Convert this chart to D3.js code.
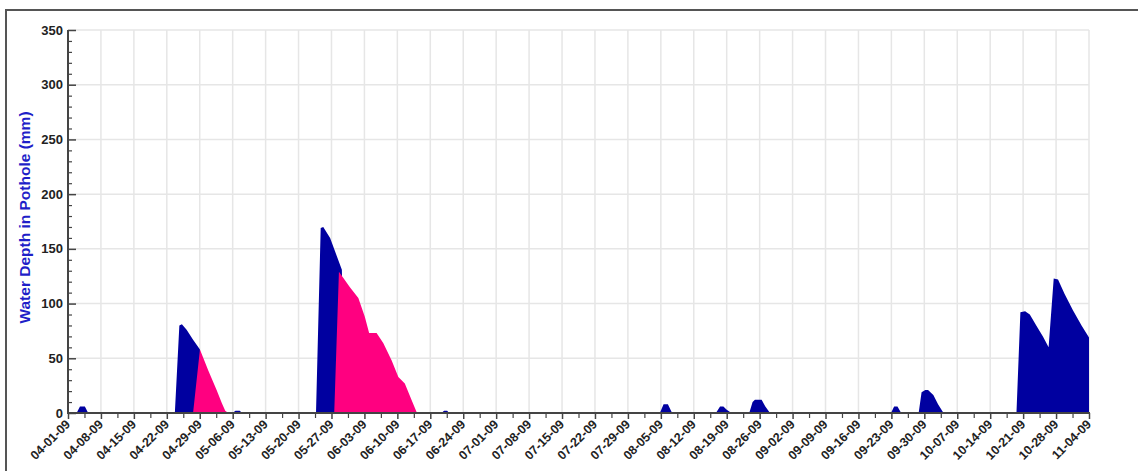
<!DOCTYPE html>
<html><head><meta charset="utf-8">
<script src="https://cdn.jsdelivr.net/npm/d3@7"></script>
<style>body{margin:0;background:#fff}svg{display:block}</style>
</head><body><svg id="c" width="1138" height="471"></svg>
<script>
// ---- data ----
const xTickLabels = ["04-01-09","04-08-09","04-15-09","04-22-09","04-29-09","05-06-09","05-13-09","05-20-09","05-27-09","06-03-09","06-10-09","06-17-09","06-24-09","07-01-09","07-08-09","07-15-09","07-22-09","07-29-09","08-05-09","08-12-09","08-19-09","08-26-09","09-02-09","09-09-09","09-16-09","09-23-09","09-30-09","10-07-09","10-14-09","10-21-09","10-28-09","11-04-09"];
const yTicks = [0,50,100,150,200,250,300,350];
const yTitle = "Water Depth in Pothole (mm)";

// blue series (date-time, depth mm)
const blueTimes = ["2009-04-02 20:00","2009-04-03 13:00","2009-04-04 14:00","2009-04-05 07:00",
 "2009-04-23 17:00","2009-04-24 16:00","2009-04-25 05:00","2009-04-26 05:00","2009-04-27 14:00","2009-04-29 01:00","2009-04-29 14:00",
 "2009-05-06 00:00","2009-05-06 14:00","2009-05-07 12:00","2009-05-08 00:00",
 "2009-05-23 17:00","2009-05-24 17:00","2009-05-25 06:00","2009-05-26 17:00","2009-05-28 02:00","2009-05-29 05:00","2009-05-29 19:00",
 "2009-06-19 10:00","2009-06-19 22:00","2009-06-20 14:00","2009-06-21 00:00",
 "2009-07-02 00:00","2009-07-02 12:00","2009-07-03 12:00","2009-07-04 00:00",
 "2009-08-04 19:00","2009-08-05 14:00","2009-08-06 12:00","2009-08-07 07:00","2009-08-08 07:00","2009-08-08 14:00",
 "2009-08-16 17:00","2009-08-17 14:00","2009-08-18 07:00","2009-08-19 00:00","2009-08-20 00:00",
 "2009-08-23 19:00","2009-08-24 12:00","2009-08-25 00:00","2009-08-26 10:00","2009-08-27 05:00","2009-08-28 05:00",
 "2009-09-19 02:00","2009-09-19 12:00","2009-09-20 12:00","2009-09-20 22:00",
 "2009-09-22 22:00","2009-09-23 14:00","2009-09-24 07:00","2009-09-25 02:00",
 "2009-09-28 19:00","2009-09-29 10:00","2009-09-30 05:00","2009-09-30 19:00","2009-10-01 22:00","2009-10-02 22:00","2009-10-04 02:00",
 "2009-10-19 14:00","2009-10-20 10:00","2009-10-21 10:00","2009-10-22 10:00","2009-10-23 19:00","2009-10-25 05:00","2009-10-26 10:00",
 "2009-10-27 12:00","2009-10-28 10:00","2009-10-29 19:00","2009-10-31 14:00","2009-11-02 10:00","2009-11-04 00:00"];
const blueDepth = [0,6,6,0,
 0,80,81,76,67,58,0,
 0,2,2,0,
 0,169,170,160,144,131,0,
 0,2,2,0,
 0,1,1,0,
 0,8,8,1,1,0,
 0,6,6,3,0,
 0,10,12,12,6,0,
 0,1,1,0,
 0,6,6,0,
 0,19,21,21,16.5,8,0,
 0,92,93,90,80,70,60,
 123,122,109,94,80,69];

// pink series
const pinkTimes = ["2009-04-27 14:00","2009-04-29 01:00","2009-04-30 19:00","2009-05-02 14:00","2009-05-03 17:00","2009-05-04 10:00","2009-05-05 02:00",
 "2009-05-27 14:00","2009-05-28 14:00","2009-05-30 22:00","2009-06-01 17:00","2009-06-03 02:00","2009-06-04 00:00","2009-06-05 14:00","2009-06-07 00:00","2009-06-08 19:00","2009-06-10 05:00","2009-06-11 14:00","2009-06-13 00:00","2009-06-14 02:00","2009-06-14 12:00"];
const pinkDepth = [0,58,39,21,9,2,0,
 0,129,115,105,88,73,73,64,48,33,27,12,1,0];

// ---- drawing ----
const svg = d3.select("#c");
const L = 68, R = 1089, T = 30, B = 413;
const parseT = d3.timeParse("%Y-%m-%d %H:%M");
const parseTick = d3.timeParse("%m-%d-%y");
const tickDates = xTickLabels.map(parseTick);

const x = d3.scaleTime().domain([tickDates[0], tickDates[tickDates.length-1]]).range([L, R]);
const y = d3.scaleLinear().domain([0, 350]).range([B, T]);

const font = "Arial, 'Liberation Sans', Helvetica, sans-serif";

// frame
svg.append("rect").attr("x",6).attr("y",10).attr("width",1200).attr("height",600)
  .attr("fill","#fff").attr("stroke","#555").attr("stroke-width",2);

// grid
const grid = svg.append("g");
grid.selectAll("line.v").data(tickDates.slice(1)).join("line")
  .attr("x1", d => x(d)).attr("x2", d => x(d)).attr("y1", T).attr("y2", B)
  .attr("stroke", "#e6e6e6").attr("stroke-width", 1.5);
grid.selectAll("line.h").data(yTicks.slice(1)).join("line")
  .attr("x1", L).attr("x2", R).attr("y1", d => y(d)).attr("y2", d => y(d))
  .attr("stroke", "#e6e6e6").attr("stroke-width", 1.5);

// areas
const area = d3.area().x(d => x(d.t)).y0(y(0)).y1(d => y(d.v)).curve(d3.curveLinear);
const blue = blueTimes.map((t,i) => ({t: parseT(t), v: blueDepth[i]}));
const pink = pinkTimes.map((t,i) => ({t: parseT(t), v: pinkDepth[i]}));
svg.append("path").datum(blue).attr("d", area).attr("fill", "#0000a0");
svg.append("path").datum(pink).attr("d", area).attr("fill", "#ff0080");

// y axis
const yMinor = d3.range(0, 351, 10).filter(v => v % 50 !== 0);
svg.append("g").attr("transform", `translate(${L},0)`)
  .call(d3.axisRight(y).tickValues(yMinor).tickSize(4).tickFormat(""))
  .call(g => g.select(".domain").remove())
  .call(g => g.selectAll("line").attr("stroke", "#444").attr("stroke-width", 1.2));
svg.append("g").attr("transform", `translate(${L},0)`)
  .call(d3.axisRight(y).tickValues(yTicks).tickSize(8).tickFormat(""))
  .call(g => g.select(".domain").remove())
  .call(g => g.selectAll("line").attr("stroke", "#444").attr("stroke-width", 1.5));
svg.append("g").selectAll("text").data(yTicks).join("text")
  .attr("x", L - 5).attr("y", d => y(d)).attr("dy", "0.35em")
  .attr("text-anchor", "end").attr("font-family", font).attr("font-weight", "bold")
  .attr("font-size", 13).attr("fill", "#222").text(d => d);

// x axis
const xMinor = tickDates.slice(0, -1).map((d, i) => new Date((+d + +tickDates[i+1]) / 2));
svg.append("g").attr("transform", `translate(0,${B})`)
  .call(d3.axisBottom(x).tickValues(xMinor).tickSize(5).tickFormat(""))
  .call(g => g.select(".domain").remove())
  .call(g => g.selectAll("line").attr("stroke", "#444").attr("stroke-width", 1.2));
svg.append("g").attr("transform", `translate(0,${B})`)
  .call(d3.axisBottom(x).tickValues(tickDates).tickSize(6).tickFormat(""))
  .call(g => g.select(".domain").remove())
  .call(g => g.selectAll("line").attr("stroke", "#444").attr("stroke-width", 1.5));
svg.append("g").selectAll("text").data(tickDates).join("text")
  .attr("transform", d => `translate(${x(d) + 3},${B + 12}) rotate(-45)`)
  .attr("text-anchor", "end").attr("font-family", font).attr("font-weight", "bold")
  .attr("font-size", 12.5).attr("fill", "#222").text((d, i) => xTickLabels[i]);

// axis lines
svg.append("line").attr("x1", L).attr("x2", L).attr("y1", T).attr("y2", B + 1)
  .attr("stroke", "#444").attr("stroke-width", 2);
svg.append("line").attr("x1", L - 1).attr("x2", R + 1).attr("y1", B).attr("y2", B)
  .attr("stroke", "#444").attr("stroke-width", 2);

// y title
svg.append("text").attr("transform", `translate(30,${(T + B) / 2 - 4}) rotate(-90)`)
  .attr("text-anchor", "middle").attr("font-family", font).attr("font-weight", "bold")
  .attr("font-size", 15.5).attr("fill", "#1f1fc8").text(yTitle);
</script></body></html>
